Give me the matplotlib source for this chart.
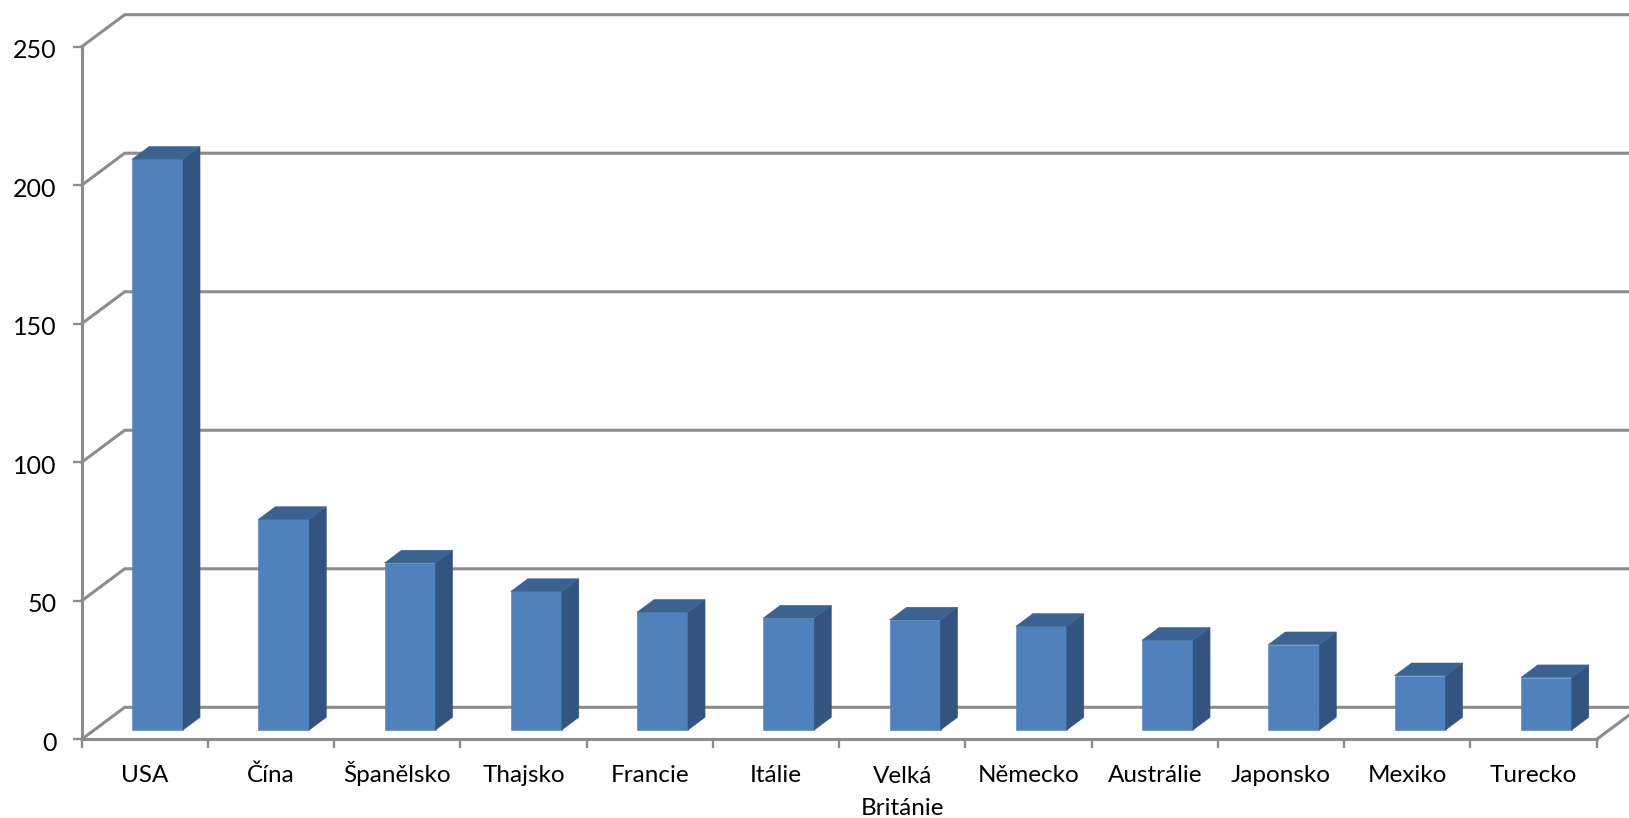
"""
Pseudo-3D column chart of countries, drawn on plain 2D axes.
"""

import matplotlib
matplotlib.use('Agg')
import matplotlib.pyplot as plt
from matplotlib.patches import Polygon
from matplotlib.transforms import ScaledTranslation

countries = ['USA', 'Čína', 'Španělsko', 'Thajsko', 'Francie', 'Itálie',
             'Velká\nBritánie', 'Německo', 'Austrálie', 'Japonsko', 'Mexiko', 'Turecko']
values = [206, 76, 60.3, 50, 42.5, 40.4, 39.7, 37.4, 32.4, 30.8, 19.6, 18.9]
y_ticks = [0, 50, 100, 150, 200, 250]

WIDTH, HEIGHT = 1629, 818
X0, X1 = 81.7, 1596.7
Y0, Y250 = 739.3, 46.7

FRONT = '#4F81BD'
TOP = '#3B6391'
SIDE = '#32547F'
GRID = '#8C8C8C'

plt.rcParams['font.family'] = ['Lato', 'DejaVu Sans']

fig = plt.figure(figsize=(WIDTH / 100, HEIGHT / 100), dpi=100)
ax = fig.add_axes([X0 / WIDTH, 1 - Y0 / HEIGHT, (X1 - X0) / WIDTH, (Y0 - Y250) / HEIGHT])
ax.set_xlim(0, len(countries))
ax.set_ylim(0, 250)

# pixel sizes of the fake depth, in data units
px_x = len(countries) / (X1 - X0)
px_y = 250 / (Y0 - Y250)
wall_dx, wall_dy = 43 * px_x, 32 * px_y
bar_w = 51 * px_x
bar_dx, bar_dy = 17 * px_x, 12.7 * px_y
base_dx, base_dy = 12.7 * px_x, 9.3 * px_y

# back wall and left wall
for v in y_ticks:
    ax.plot([0, wall_dx, len(countries) + wall_dx], [v, v + wall_dy, v + wall_dy],
            color=GRID, lw=2.2, clip_on=False, zorder=1, solid_joinstyle='miter')
ax.plot([len(countries), len(countries) + wall_dx], [0, wall_dy],
        color=GRID, lw=2.2, clip_on=False, zorder=1)

# bars
for i, v in enumerate(values):
    left = i + 0.5 + base_dx - bar_w / 2
    right = left + bar_w
    top = base_dy + v
    ax.bar(left, v, width=bar_w, bottom=base_dy, align='edge', color=FRONT,
           edgecolor=FRONT, linewidth=0.4, zorder=3)
    ax.add_patch(Polygon([(right, base_dy), (right + bar_dx, base_dy + bar_dy),
                          (right + bar_dx, top + bar_dy), (right, top)],
                         closed=True, facecolor=SIDE, edgecolor=SIDE, lw=0.4,
                         zorder=3, clip_on=False))
    ax.add_patch(Polygon([(left, top), (left + bar_dx, top + bar_dy),
                          (right + bar_dx, top + bar_dy), (right, top)],
                         closed=True, facecolor=TOP, edgecolor=TOP, lw=0.4,
                         zorder=3, clip_on=False))

# axes
for name in ['top', 'right']:
    ax.spines[name].set_visible(False)
for name in ['left', 'bottom']:
    ax.spines[name].set_color(GRID)
    ax.spines[name].set_linewidth(2.2)
    ax.spines[name].set_zorder(2)

ax.set_yticks(y_ticks)
ax.tick_params(axis='y', length=6.5, width=1.7, color=GRID, labelsize=18, pad=11.5,
               labelcolor='black')
for label in ax.get_yticklabels():
    label.set_transform(label.get_transform() + ScaledTranslation(0, -1.5 / 72, fig.dpi_scale_trans))

ax.set_xticks(range(len(countries) + 1))
ax.set_xticklabels([])
ax.tick_params(axis='x', which='major', length=6.5, width=1.7, color=GRID)
ax.set_xticks([i + 0.5 for i in range(len(countries))], minor=True)
ax.set_xticklabels(countries, minor=True, fontsize=17.5, linespacing=1.7, color='black',
                   va='baseline')
ax.tick_params(axis='x', which='minor', length=0, pad=31)

# baseline alignment uses the last line, so push the two-line label down by one line
for label in ax.get_xticklabels(minor=True):
    if '\n' in label.get_text():
        label.set_transform(label.get_transform() + ScaledTranslation(0, -23.8 / 72, fig.dpi_scale_trans))

fig.savefig('out.png', dpi=100)
